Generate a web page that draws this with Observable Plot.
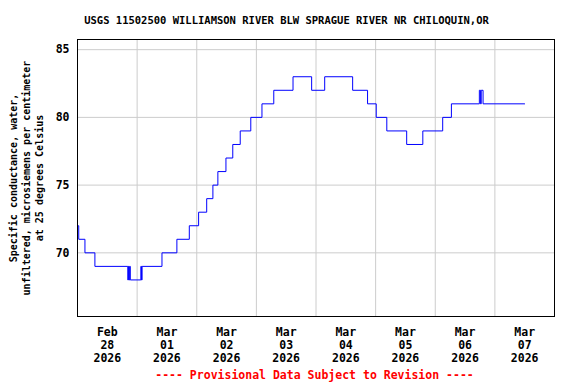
<!DOCTYPE html>
<html>
<head>
<meta charset="utf-8">
<script src="https://cdn.jsdelivr.net/npm/d3@7"></script>
<script src="https://cdn.jsdelivr.net/npm/@observablehq/plot@0.6"></script>
<style>
  html, body { margin: 0; padding: 0; background: #fff; }
</style>
</head>
<body>
<div id="chart"></div>
<script>
// ---- data (step change points, UTC) ----
const times = [
  "2026-02-28T00:00", "2026-02-28T00:30", "2026-02-28T03:00", "2026-02-28T07:00",
  "2026-02-28T20:15", "2026-02-28T20:30", "2026-02-28T20:45", "2026-02-28T21:00",
  "2026-02-28T21:15", "2026-03-01T01:30", "2026-03-01T01:45", "2026-03-01T02:00",
  "2026-03-01T10:00", "2026-03-01T16:00", "2026-03-01T21:00",
  "2026-03-02T00:45", "2026-03-02T04:00", "2026-03-02T06:30", "2026-03-02T08:30",
  "2026-03-02T11:45", "2026-03-02T14:30", "2026-03-02T17:30", "2026-03-02T21:45",
  "2026-03-03T02:15", "2026-03-03T07:00", "2026-03-03T14:45", "2026-03-03T22:15",
  "2026-03-04T03:30", "2026-03-04T14:45", "2026-03-04T20:45",
  "2026-03-05T00:15", "2026-03-05T04:30", "2026-03-05T12:30", "2026-03-05T19:00",
  "2026-03-06T03:00", "2026-03-06T06:30", "2026-03-06T17:45", "2026-03-06T18:15",
  "2026-03-06T18:30", "2026-03-06T19:15", "2026-03-07T12:00"
];
const values = [
  72, 71, 70, 69,
  68, 69, 68, 69,
  68, 69, 68, 69,
  70, 71, 72,
  73, 74, 75, 76,
  77, 78, 79, 80,
  81, 82, 83, 82,
  83, 82, 81,
  80, 79, 78, 79,
  80, 81, 82, 81,
  82, 81, 81
];

const xTickDates = ["2026-02-28T12:00", "2026-03-01T12:00", "2026-03-02T12:00", "2026-03-03T12:00",
                    "2026-03-04T12:00", "2026-03-05T12:00", "2026-03-06T12:00", "2026-03-07T12:00"];
const xTickMonths = ["Feb", "Mar", "Mar", "Mar", "Mar", "Mar", "Mar", "Mar"];
const xTickDays = ["28", "01", "02", "03", "04", "05", "06", "07"];
const xTickYear = "2026";
const xGridDates = ["2026-03-01T00:00", "2026-03-02T00:00", "2026-03-03T00:00", "2026-03-04T00:00",
                    "2026-03-05T00:00", "2026-03-06T00:00", "2026-03-07T00:00"];
const yTicks = [70, 75, 80, 85];
const xDomain = ["2026-02-28T00:00", "2026-03-08T00:00"];
const yDomain = [65.3, 85.75];

const titleText = "USGS 11502500 WILLIAMSON RIVER BLW SPRAGUE RIVER NR CHILOQUIN,OR";
const yLabelText = "Specific conductance, water,\nunfiltered, microsiemens per centimeter\nat 25 degrees Celsius";
const footerText = "---- Provisional Data Subject to Revision ----";

// ---- build ----
const utc = s => new Date(s + "Z");
const data = times.map((t, i) => ({t: utc(t), v: values[i]}));
const tickDates = xTickDates.map(utc);
const labelByTime = new Map(tickDates.map((d, i) => [+d, `${xTickMonths[i]}\n${xTickDays[i]}\n${xTickYear}`]));

const FONT = "'DejaVu Sans Mono', 'Liberation Mono', monospace";

const chart = Plot.plot({
  width: 576,
  height: 384,
  marginLeft: 77,
  marginRight: 22,
  marginTop: 39,
  marginBottom: 68,
  style: {fontFamily: FONT, fontWeight: "bold", fontSize: "11.5px", background: "#fff", color: "#000"},
  x: {type: "utc", domain: xDomain.map(utc)},
  y: {domain: yDomain},
  marks: [
    Plot.gridX(xGridDates.map(utc), {stroke: "#cccccc", strokeOpacity: 1, strokeWidth: 1}),
    Plot.gridY(yTicks, {stroke: "#cccccc", strokeOpacity: 1, strokeWidth: 1}),
    Plot.line(data, {x: "t", y: "v", curve: "step-after", stroke: "#0000ff", strokeWidth: 1}),
    Plot.frame({stroke: "#000", strokeWidth: 1}),
    Plot.axisY(yTicks, {tickSize: 0, tickPadding: 8, label: null, fontSize: 11.5}),
    Plot.axisX(tickDates, {tickSize: 0, tickPadding: 10, label: null, lineHeight: 1.13,
      tickFormat: d => labelByTime.get(+d), fontSize: 11.5}),
    Plot.text([titleText], {frameAnchor: "top", dx: -29.5, dy: -19, lineAnchor: "middle",
      fontSize: 10.5, fill: "#000"}),
    Plot.text([yLabelText], {frameAnchor: "left", dx: -52, rotate: -90, lineAnchor: "middle",
      textAnchor: "middle", fontSize: 10, lineHeight: 1.3, fill: "#000"}),
    Plot.text([footerText], {frameAnchor: "bottom", dx: -1.5, dy: 59, lineAnchor: "middle",
      fontSize: 11.5, fill: "#ff0000"})
  ]
});
document.getElementById("chart").appendChild(chart);
</script>
</body>
</html>
